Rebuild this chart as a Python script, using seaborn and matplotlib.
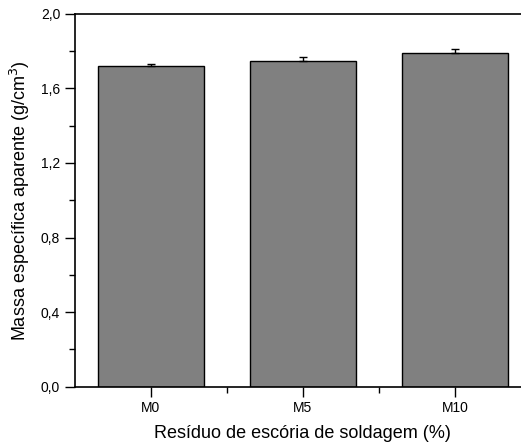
import matplotlib
matplotlib.use("Agg")
from matplotlib import pyplot as plt
from matplotlib.ticker import MultipleLocator, FuncFormatter
import seaborn as sns

# valores
amostras = ["M0", "M5", "M10"]
massa = [1.721, 1.749, 1.791]
desvio = [0.008, 0.020, 0.020]

sns.set_style("ticks")
plt.rcParams['font.family'] = ['Liberation Sans', 'DejaVu Sans']
plt.rcParams['text.color'] = "black"
plt.rcParams['axes.labelcolor'] = "black"
plt.rcParams['xtick.color'] = "black"
plt.rcParams['ytick.color'] = "black"

fig = plt.figure(figsize=(5.21, 4.46), dpi=100)
ax = fig.add_axes([0.1434, 0.133, 0.876, 0.836])

sns.barplot(x=amostras, y=massa, color="#808080", saturation=1, width=0.70,
            edgecolor="black", linewidth=1.0, errorbar=None, ax=ax)

pos = list(range(len(amostras)))
ax.errorbar(pos, massa, yerr=[[0] * len(desvio), desvio], fmt="none",
            ecolor="black", elinewidth=1.0, capsize=3, capthick=1.0, zorder=1)

ax.set_xlim(-0.5, 2.5)
ax.set_ylim(0, 2.0)
ax.yaxis.set_major_locator(MultipleLocator(0.4))
ax.yaxis.set_minor_locator(MultipleLocator(0.2))
ax.yaxis.set_major_formatter(FuncFormatter(lambda v, p: f"{v:.1f}".replace(".", ",")))
ax.set_xticks([0.5, 1.5], minor=True)

ax.tick_params(axis="both", which="major", direction="out", length=7, width=1, labelsize=10, color="black")
ax.tick_params(axis="both", which="minor", direction="out", length=4, width=1, color="black")

for s in ax.spines.values():
    s.set_visible(True)
    s.set_linewidth(1.2)
    s.set_color("black")

ax.set_xlabel("Resíduo de escória de soldagem (%)", fontsize=13, labelpad=7)
ax.set_ylabel("Massa específica aparente (g/cm$^3$)", fontsize=13, labelpad=6)

fig.savefig("out.png", dpi=100)
